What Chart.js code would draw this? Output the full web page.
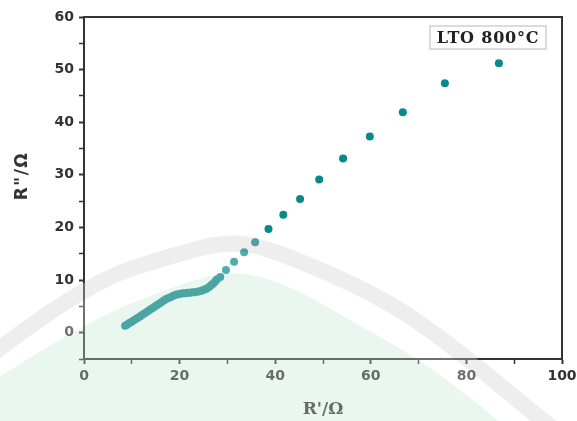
<!DOCTYPE html>
<html>
<head>
<meta charset="utf-8">
<script src="https://cdn.jsdelivr.net/npm/chart.js@4.4.1/dist/chart.umd.min.js"></script>
<style>
  html, body { margin: 0; padding: 0; background: #fff; }
  #wrap { width: 577px; height: 421px; }
</style>
</head>
<body>
<div id="wrap"><canvas id="eis-chart" width="577" height="421"></canvas></div>
<script>
// Nyquist plot, LTO 800 C
const zReal = [8.6, 9.0, 9.4, 9.8, 10.2, 10.7, 11.2, 11.7, 12.2, 12.7, 13.2, 13.7, 14.2, 14.7,
  15.2, 15.7, 16.2, 16.7, 17.2, 17.7, 18.2, 18.7, 19.2, 19.7, 20.2, 20.7, 21.2, 21.7, 22.2,
  22.7, 23.2, 23.7, 24.2, 24.7, 25.2, 25.7, 26.2, 26.6, 27.0, 27.4, 27.8, 28.5, 29.7, 31.4,
  33.5, 35.8, 38.6, 41.7, 45.2, 49.2, 54.2, 59.8, 66.7, 75.5, 86.8];
const zImag = [1.3, 1.5, 1.8, 2.0, 2.2, 2.5, 2.8, 3.1, 3.4, 3.7, 4.0, 4.3, 4.6, 4.9,
  5.2, 5.5, 5.8, 6.1, 6.4, 6.6, 6.8, 7.0, 7.2, 7.3, 7.4, 7.5, 7.5, 7.6, 7.6,
  7.7, 7.7, 7.8, 7.9, 8.0, 8.2, 8.4, 8.7, 9.0, 9.3, 9.7, 10.1, 10.6, 11.9, 13.5,
  15.3, 17.2, 19.7, 22.4, 25.4, 29.1, 33.1, 37.3, 41.9, 47.4, 51.2];
const xTicks = [0, 20, 40, 60, 80, 100];
const yTicks = [0, 10, 20, 30, 40, 50, 60];
const legendText = 'LTO 800\u00B0C';
const yTitle = 'R"/\u03A9';

const points = [];
for (let i = 0; i < zReal.length; i++) {
  points.push({x: zReal[i], y: zImag[i]});
}

// frame on top/right, y title and the label box
const framePlugin = {
  id: 'frame',
  afterDatasetsDraw(chart) {
    const a = chart.chartArea, ctx = chart.ctx;
    ctx.save();
    ctx.strokeStyle = '#333';
    ctx.lineWidth = 2;
    ctx.strokeRect(a.left, a.top, a.right - a.left, a.bottom - a.top);
    // legend box
    ctx.strokeStyle = '#cfcfcf';
    ctx.lineWidth = 1.5;
    ctx.strokeRect(430, 26, 116, 23);
    ctx.fillStyle = '#222';
    ctx.font = 'bold 16px "DejaVu Serif"';
    ctx.letterSpacing = '0.8px';
    ctx.textAlign = 'center';
    ctx.textBaseline = 'middle';
    ctx.fillText(legendText, 488, 38.5);
    ctx.letterSpacing = '0px';
    // y axis title
    ctx.translate(23, 176);
    ctx.rotate(-Math.PI / 2);
    ctx.font = 'bold 17px "DejaVu Sans"';
    ctx.fillStyle = '#333';
    ctx.letterSpacing = '1.5px';
    ctx.fillText(yTitle, 0, 0);
    ctx.restore();
  }
};

// faint watermark from the scanned page
function smooth(ctx, pts, dy) {
  ctx.moveTo(pts[0][0], pts[0][1] + dy);
  for (let i = 1; i < pts.length - 1; i++) {
    const mx = (pts[i][0] + pts[i + 1][0]) / 2;
    const my = (pts[i][1] + pts[i + 1][1]) / 2 + dy;
    ctx.quadraticCurveTo(pts[i][0], pts[i][1] + dy, mx, my);
  }
  const l = pts[pts.length - 1];
  ctx.lineTo(l[0], l[1] + dy);
}
const bandEdge = [[-5, 344], [84, 276], [180, 245], [230, 233], [275, 242], [380, 288], [450, 336], [537, 408], [590, 450]];
const greenEdge = [[-5, 380], [84, 322], [180, 284], [233, 270], [285, 283], [350, 320], [417, 358], [483, 407], [530, 450]];
const watermarkPlugin = {
  id: 'watermark',
  afterDraw(chart) {
    const ctx = chart.ctx;
    ctx.save();
    ctx.beginPath();
    smooth(ctx, bandEdge, 0);
    ctx.lineTo(600, 440); ctx.lineTo(-10, 440); ctx.closePath();
    ctx.fillStyle = 'rgba(255,255,255,0.3)';
    ctx.fill();
    ctx.globalCompositeOperation = 'multiply';
    ctx.beginPath();
    smooth(ctx, bandEdge, 8);
    ctx.strokeStyle = 'rgb(238,238,238)';
    ctx.lineWidth = 16;
    ctx.stroke();
    ctx.beginPath();
    smooth(ctx, greenEdge, 0);
    ctx.lineTo(600, 440); ctx.lineTo(-10, 440); ctx.closePath();
    ctx.fillStyle = 'rgb(234,246,240)';
    ctx.fill();
    ctx.restore();
  }
};

const config = {
  type: 'scatter',
  data: {
    datasets: [{
      data: points,
      backgroundColor: '#08898a',
      borderWidth: 0,
      pointRadius: 4,
      pointHoverRadius: 4
    }]
  },
  options: {
    responsive: false,
    animation: false,
    layout: {padding: {left: 0, top: 17, right: 15, bottom: 0}},
    plugins: {legend: {display: false}, tooltip: {enabled: false}},
    scales: {
      x: {
        type: 'linear',
        min: 0, max: 100,
        afterFit(s) { s.height = 62; s.paddingLeft = 0; s.paddingRight = 0; },
        ticks: {
          stepSize: 10,
          autoSkip: false,
          maxRotation: 0,
          padding: 4,
          color: '#333',
          font: {family: '"DejaVu Sans"', size: 14, weight: 'bold'},
          callback: v => xTicks.includes(v) ? v : ''
        },
        grid: {
          drawOnChartArea: false,
          tickLength: 5,
          tickColor: '#333',
          tickWidth: c => xTicks.includes(c.tick.value) ? 2 : 1.5
        },
        border: {display: true, color: '#333', width: 2},
        title: {
          display: true,
          text: "R'/\u03A9",
          color: '#333',
          font: {family: '"DejaVu Serif"', size: 17, weight: 'bold'},
          padding: {top: 4, bottom: 1}
        }
      },
      y: {
        type: 'linear',
        min: -5, max: 60,
        afterFit(s) { s.width = 84; s.paddingTop = 0; s.paddingBottom = 0; },
        ticks: {
          stepSize: 5,
          autoSkip: false,
          padding: 5,
          color: '#333',
          font: {family: '"DejaVu Sans"', size: 14, weight: 'bold'},
          callback: v => yTicks.includes(v) ? v : ''
        },
        grid: {
          drawOnChartArea: false,
          tickLength: 5,
          tickColor: '#333',
          tickWidth: c => yTicks.includes(c.tick.value) ? 2 : 1.5
        },
        border: {display: true, color: '#333', width: 2},
        title: {display: false}
      }
    }
  },
  plugins: [framePlugin, watermarkPlugin]
};

window.onload = function() {
  const ctx = document.getElementById('eis-chart').getContext('2d');
  window.eisChart = new Chart(ctx, config);
};
</script>
</body>
</html>
